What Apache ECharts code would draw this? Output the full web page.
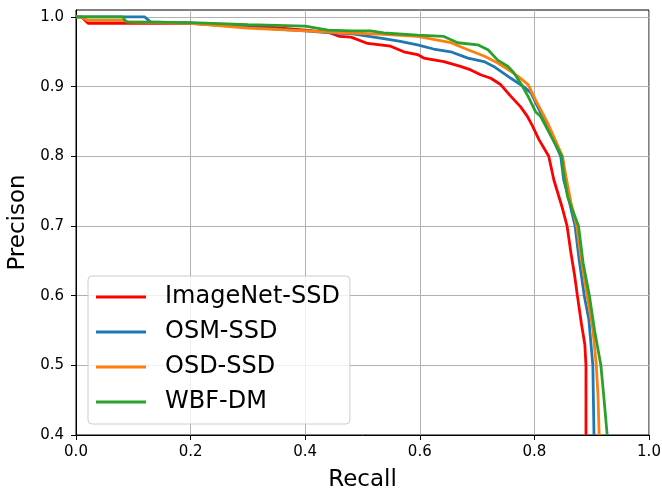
<!DOCTYPE html>
<html>
<head>
    <meta charset="utf-8">
    <title>PR curve</title>
    <script src="https://cdn.jsdelivr.net/npm/echarts@6/dist/echarts.min.js"></script>
</head>
<body style="margin:0">
<div id="main" style="width: 662px;height:489px;"></div>
<script type="text/javascript">
// [recall, precision] points
var imagenetSSD = [[0,1.0],[0.01,1.0],[0.021,0.991],[0.2,0.991],[0.3,0.988],[0.4,0.981],[0.44,0.978],[0.46,0.972],[0.48,0.971],[0.509,0.962],[0.549,0.958],[0.572,0.950],[0.596,0.946],[0.607,0.941],[0.642,0.936],[0.671,0.929],[0.689,0.924],[0.706,0.917],[0.724,0.912],[0.741,0.903],[0.759,0.886],[0.776,0.871],[0.788,0.857],[0.797,0.843],[0.808,0.824],[0.825,0.80],[0.834,0.766],[0.848,0.728],[0.857,0.70],[0.864,0.66],[0.870,0.63],[0.875,0.60],[0.882,0.56],[0.888,0.53],[0.890,0.50],[0.890,0.40]];
var osmSSD = [[0,1.0],[0.12,1.0],[0.13,0.993],[0.2,0.991],[0.3,0.985],[0.4,0.98],[0.45,0.977],[0.48,0.976],[0.537,0.969],[0.566,0.965],[0.596,0.96],[0.624,0.954],[0.654,0.95],[0.684,0.941],[0.712,0.936],[0.729,0.929],[0.759,0.912],[0.781,0.90],[0.794,0.891],[0.80,0.881],[0.823,0.842],[0.846,0.80],[0.851,0.767],[0.860,0.738],[0.871,0.70],[0.878,0.652],[0.887,0.60],[0.895,0.566],[0.902,0.50],[0.903,0.45],[0.904,0.40]];
var osdSSD = [[0,1.0],[0.01,1.0],[0.02,0.995],[0.085,0.995],[0.09,0.993],[0.2,0.991],[0.3,0.984],[0.4,0.98],[0.45,0.978],[0.48,0.977],[0.537,0.975],[0.596,0.972],[0.624,0.968],[0.654,0.963],[0.684,0.953],[0.712,0.944],[0.736,0.934],[0.759,0.922],[0.771,0.915],[0.789,0.903],[0.802,0.881],[0.823,0.848],[0.849,0.80],[0.855,0.771],[0.864,0.733],[0.874,0.70],[0.881,0.656],[0.892,0.60],[0.902,0.552],[0.908,0.50],[0.911,0.456],[0.913,0.40]];
var wbfDM = [[0,1.0],[0.082,1.0],[0.087,0.993],[0.2,0.992],[0.3,0.989],[0.4,0.987],[0.44,0.981],[0.48,0.98],[0.514,0.98],[0.537,0.977],[0.596,0.974],[0.642,0.972],[0.666,0.963],[0.701,0.96],[0.719,0.953],[0.736,0.938],[0.754,0.929],[0.764,0.92],[0.776,0.905],[0.789,0.886],[0.802,0.864],[0.811,0.857],[0.829,0.829],[0.848,0.80],[0.851,0.776],[0.858,0.742],[0.866,0.724],[0.877,0.70],[0.885,0.647],[0.896,0.60],[0.905,0.55],[0.916,0.50],[0.921,0.456],[0.927,0.40]];

var names = ['ImageNet-SSD','OSM-SSD','OSD-SSD','WBF-DM'];
var colors = ['#ff0000','#1f77b4','#ff7f0e','#2ca02c'];
var curves = [imagenetSSD, osmSSD, osdSSD, wbfDM];
var yTicks = [0.4, 0.5, 0.6, 0.7, 0.8, 0.9, 1.0];

var font = 'DejaVu Sans';
var myChart = echarts.init(document.getElementById('main'));

var series = [];
for (var i = 0; i < curves.length; i++) {
    series.push({
        name: names[i],
        type: 'line',
        data: curves[i],
        symbol: 'none',
        lineStyle: { color: colors[i], width: 2.8 },
        itemStyle: { color: colors[i] },
        animation: false,
        z: 2 + i
    });
}

option = {
    backgroundColor: '#fff',
    grid: {
        left: 76,
        right: 13,
        top: 10,
        bottom: 54,
        outerBoundsMode: 'none',
        containLabel: false,
        show: true,
        borderColor: '#000',
        borderWidth: 1,
        backgroundColor: 'transparent'
    },
    legend: {
        data: names,
        orient: 'vertical',
        left: 88,
        top: 276,
        padding: [9, 10, 10, 8],
        itemWidth: 50,
        itemHeight: 3,
        itemGap: 11,
        icon: 'rect',
        backgroundColor: 'rgba(255,255,255,0.8)',
        borderColor: '#cccccc',
        borderWidth: 1,
        borderRadius: 4,
        textStyle: {
            fontFamily: font,
            fontSize: 24,
            lineHeight: 24,
            color: '#000',
            padding: [0, 0, 0, 14]
        }
    },
    xAxis: {
        type: 'value',
        min: 0,
        max: 1,
        interval: 0.2,
        name: 'Recall',
        nameLocation: 'middle',
        nameGap: 34,
        nameTextStyle: { fontFamily: font, fontSize: 23, color: '#000' },
        axisLine: { lineStyle: { color: '#000', width: 1 } },
        axisTick: { show: true, length: 5, lineStyle: { color: '#000' } },
        axisLabel: {
            fontFamily: font, fontSize: 15, color: '#000', margin: 10,
            formatter: function (v) { return v.toFixed(1); }
        },
        splitLine: { show: true, lineStyle: { color: '#b0b0b0', width: 1 } }
    },
    yAxis: {
        type: 'value',
        min: 0.4,
        max: 1.01,
        interval: 0.1,
        name: 'Precison',
        nameLocation: 'middle',
        nameGap: 42,
        nameTextStyle: { fontFamily: font, fontSize: 23, color: '#000' },
        axisLine: { show: true, lineStyle: { color: '#000', width: 1 } },
        axisTick: { show: true, length: 5, customValues: yTicks, lineStyle: { color: '#000' } },
        axisLabel: {
            fontFamily: font, fontSize: 15, color: '#000', margin: 12,
            customValues: yTicks,
            formatter: function (v) { return v.toFixed(1); }
        },
        splitLine: { show: true, lineStyle: { color: '#b0b0b0', width: 1 } }
    },
    series: series
};
myChart.setOption(option);
</script>
</body>
</html>
